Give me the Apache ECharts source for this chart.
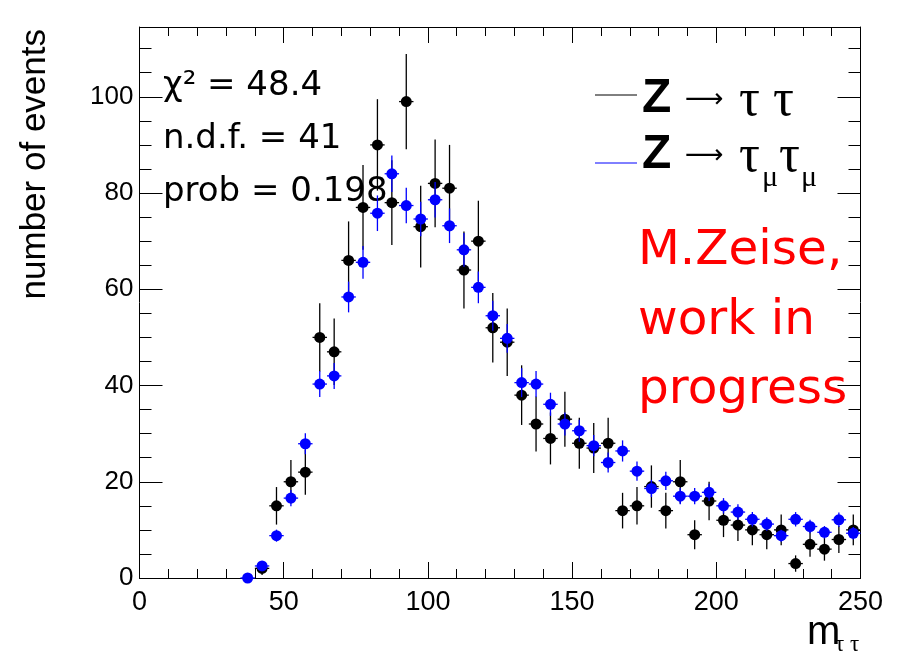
<!DOCTYPE html>
<html><head><meta charset="utf-8">
<script src="https://cdn.jsdelivr.net/npm/echarts@6/dist/echarts.min.js"></script>
<style>html,body{margin:0;padding:0;background:#fff}#c{width:897px;height:652px}</style>
</head><body><div id="c"></div>
<script>
// ---- data ----
const binCenters = [37.5,42.5,47.5,52.5,57.5,62.5,67.5,72.5,77.5,82.5,87.5,92.5,97.5,102.5,107.5,112.5,117.5,122.5,127.5,132.5,137.5,142.5,147.5,152.5,157.5,162.5,167.5,172.5,177.5,182.5,187.5,192.5,197.5,202.5,207.5,212.5,217.5,222.5,227.5,232.5,237.5,242.5,247.5];
const binHalfWidth = 2.5;
const zTauTau = [null,2,15,20,22,50,47,66,77,90,78,99,73,82,81,64,70,52,49,38,32,29,33,28,27,28,14,15,19,14,20,9,16,12,11,10,9,10,3,7,6,8,10];
const zTauTauErr = [null,1.4,3.9,4.5,4.7,7.1,6.9,8.1,8.8,9.5,8.8,9.9,8.5,9.1,9.0,8.0,8.4,7.2,7.0,6.2,5.7,5.4,5.7,5.3,5.2,5.3,3.7,3.9,4.4,3.7,4.5,3.0,4.0,3.5,3.3,3.2,3.0,3.2,1.7,2.6,2.4,2.8,3.2];
const zTauMuTauMu = [0,2.5,8.8,16.6,27.9,40.3,42.0,58.4,65.6,75.8,84.0,77.4,74.6,78.6,73.2,68.2,60.4,54.5,49.8,40.6,40.3,36.1,32.0,30.6,27.5,24.0,26.4,22.2,18.6,20.2,17.0,17.0,17.8,15.0,13.7,12.2,11.2,8.8,12.2,10.7,9.5,12.1,9.3];
const zTauMuTauMuErr = [0,0.7,1.25,1.7,2.2,2.7,2.7,3.2,3.4,3.7,3.8,3.7,3.6,3.7,3.6,3.5,3.3,3.1,3.0,3.0,2.7,2.4,2.4,2.3,2.2,2.1,2.2,2.0,1.8,1.9,1.7,1.7,1.8,1.6,1.6,1.5,1.4,1.25,1.5,1.4,1.3,1.5,1.3];
const seriesNames = ['Z → τ τ', 'Z → τμτμ'];
const xRange = [0, 250];
const yRange = [0, 114.5];
const statLines = ['χ² = 48.4', 'n.d.f. = 41', 'prob = 0.198'];
const noteLines = ['M.Zeise,', 'work in', 'progress'];

// ---- helpers ----
function build(vals, errs) {
  const out = [];
  binCenters.forEach((x, i) => { if (vals[i] != null) out.push([x, vals[i], errs[i], binHalfWidth]); });
  return out;
}
function errRender(color) {
  return function (params, api) {
    const x = api.value(0), y = api.value(1), e = api.value(2), hw = api.value(3);
    const c = api.coord([x, y]);
    const l = api.coord([x - hw, y]), r = api.coord([x + hw, y]);
    const t = api.coord([x, y + e]), b = api.coord([x, y - e]);
    return { type: 'group', children: [
      { type: 'line', shape: { x1: l[0], y1: l[1], x2: r[0], y2: r[1] }, style: { stroke: color, lineWidth: 1.3 } },
      { type: 'line', shape: { x1: t[0], y1: t[1], x2: b[0], y2: b[1] }, style: { stroke: color, lineWidth: 1.3 } },
      { type: 'circle', shape: { cx: c[0], cy: c[1], r: 5.5 }, style: { fill: color } }
    ]};
  };
}
const axisCol = '#000';
const lblFont = { fontFamily: 'Liberation Sans', fontSize: 26, color: '#000' };
function yAx(pos, interval, len, labels) {
  return {
    type: 'value', min: yRange[0], max: yRange[1], interval: interval, position: pos,
    axisLine: { show: interval === 20, lineStyle: { color: axisCol, width: 1 } },
    axisTick: { show: true, inside: true, length: len, lineStyle: { color: axisCol, width: 1 } },
    splitLine: { show: false },
    axisLabel: labels ? Object.assign({ show: true, margin: 6, formatter: v => (v % 20 === 0 ? String(v) : '') }, lblFont) : { show: false }
  };
}
function xAx(pos, labels) {
  return {
    type: 'value', min: xRange[0], max: xRange[1], interval: 50, position: pos,
    axisLine: { show: true, onZero: false, lineStyle: { color: axisCol, width: 1 } },
    axisTick: { show: true, inside: true, length: 16, lineStyle: { color: axisCol, width: 1 } },
    minorTick: { show: true, splitNumber: 5, length: 9, lineStyle: { color: axisCol, width: 1 } },
    splitLine: { show: false }, minorSplitLine: { show: false },
    axisLabel: labels ? Object.assign({ show: true, margin: 11 }, lblFont, { fontSize: 27 }) : { show: false }
  };
}
const sans = 'DejaVu Sans';
const graphics = [];
// y title
graphics.push({ type: 'text', x: 35, y: 29, rotation: Math.PI / 2,
  style: { text: 'number of events', fontFamily: 'Liberation Sans', fontSize: 35, fill: '#000', align: 'right', textAlign: 'right', verticalAlign: 'middle', textVerticalAlign: 'middle' } });
// x title
graphics.push({ type: 'text', x: 807, y: 633, style: { text: 'm', fontFamily: 'Liberation Sans', fontSize: 40, fill: '#000', align: 'left', textAlign: 'left', verticalAlign: 'middle', textVerticalAlign: 'middle' } });
graphics.push({ type: 'text', x: 835, y: 645, style: { text: 'τ τ', fontFamily: 'Liberation Serif', fontSize: 23, fill: '#000', align: 'left', textAlign: 'left', verticalAlign: 'middle', textVerticalAlign: 'middle' } });
// stats
const statY = [86, 139, 192];
statLines.forEach((s, i) => graphics.push({ type: 'text', x: 163, y: statY[i],
  style: { text: s, fontFamily: sans, fontSize: 34, fill: '#000', align: 'left', textAlign: 'left', verticalAlign: 'middle', textVerticalAlign: 'middle' } }));
// note
const noteY = [251, 321, 390];
noteLines.forEach((s, i) => graphics.push({ type: 'text', x: 638, y: noteY[i],
  style: { text: s, fontFamily: sans, fontSize: 48.5, fill: '#ff0000', align: 'left', textAlign: 'left', verticalAlign: 'middle', textVerticalAlign: 'middle' } }));
// legend
function t(x, y, s, font, size, weight) {
  return { type: 'text', x: x, y: y, style: { text: s, fontFamily: font, fontSize: size, fontWeight: weight || 'normal', fill: '#000', align: 'left', textAlign: 'left', verticalAlign: 'middle', textVerticalAlign: 'middle' } };
}
graphics.push({ type: 'line', shape: { x1: 595, y1: 95, x2: 637, y2: 95 }, style: { stroke: '#000', lineWidth: 1 } });
graphics.push({ type: 'line', shape: { x1: 595, y1: 163, x2: 637, y2: 163 }, style: { stroke: '#0000ff', lineWidth: 1 } });
graphics.push(t(642, 99, 'Z', 'Liberation Sans', 48, 'bold'));
graphics.push(t(685, 100, '⟶', 'DejaVu Sans', 27));
graphics.push(t(739, 101, 'τ τ', 'Liberation Serif', 52));
graphics.push(t(642, 155, 'Z', 'Liberation Sans', 48, 'bold'));
graphics.push(t(685, 156, '⟶', 'DejaVu Sans', 27));
graphics.push(t(739, 157, 'τ', 'Liberation Serif', 52));
graphics.push(t(762, 178, 'μ', 'Liberation Serif', 30));
graphics.push(t(779, 157, 'τ', 'Liberation Serif', 52));
graphics.push(t(801, 178, 'μ', 'Liberation Serif', 30));

const chart = echarts.init(document.getElementById('c'), null, { renderer: 'canvas' });
chart.setOption({
  backgroundColor: '#fff',
  animation: false,
  grid: { left: 139.5, right: 36.5, top: 27, bottom: 74, containLabel: false, outerBoundsMode: 'none' },
  xAxis: [xAx('bottom', true), xAx('top', false)],
  yAxis: [yAx('left', 20, 23, true), yAx('left', 5, 12, false), yAx('right', 20, 23, false), yAx('right', 5, 12, false)],
  series: [
    { name: seriesNames[0], type: 'custom', xAxisIndex: 0, yAxisIndex: 0, renderItem: errRender('#000000'), data: build(zTauTau, zTauTauErr), clip: false, z: 2 },
    { name: seriesNames[1], type: 'custom', xAxisIndex: 0, yAxisIndex: 0, renderItem: errRender('#0000ff'), data: build(zTauMuTauMu, zTauMuTauMuErr), clip: false, z: 3 }
  ],
  graphic: { elements: graphics }
});
</script></body></html>
